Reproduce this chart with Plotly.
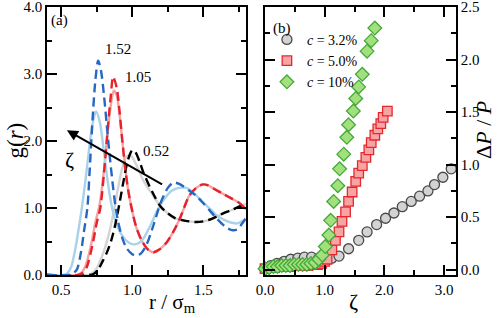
import plotly.graph_objects as go

# ---------------- Panel (a): g(r) ----------------
r_152_dash = [0.40, 0.55, 0.58, 0.61, 0.64, 0.66, 0.684, 0.70, 0.72, 0.74, 0.76, 0.78, 0.80, 0.82, 0.84, 0.86, 0.88, 0.90, 0.93, 0.96, 1.00, 1.03, 1.06, 1.10, 1.15, 1.20, 1.25, 1.29, 1.33, 1.40, 1.45, 1.50, 1.55, 1.60, 1.65, 1.70, 1.74, 1.77, 1.80]
g_152_dash = [0.00, 0.00, 0.02, 0.08, 0.35, 0.65, 1.00, 1.55, 2.30, 2.90, 3.20, 3.05, 2.70, 2.25, 1.80, 1.40, 1.05, 0.80, 0.55, 0.40, 0.31, 0.29, 0.32, 0.45, 0.75, 1.08, 1.30, 1.38, 1.36, 1.26, 1.18, 1.07, 0.95, 0.83, 0.73, 0.67, 0.68, 0.76, 0.85]

r_152_sol = [0.40, 0.51, 0.54, 0.57, 0.60, 0.62, 0.645, 0.67, 0.70, 0.72, 0.745, 0.77, 0.80, 0.83, 0.86, 0.90, 0.95, 1.00, 1.04, 1.08, 1.13, 1.18, 1.23, 1.28, 1.33, 1.38, 1.43, 1.50, 1.55, 1.60, 1.65, 1.70, 1.74, 1.77, 1.80]
g_152_sol = [0.00, 0.00, 0.02, 0.12, 0.40, 0.65, 1.00, 1.40, 1.95, 2.25, 2.44, 2.30, 1.85, 1.35, 0.98, 0.70, 0.53, 0.46, 0.47, 0.55, 0.75, 0.98, 1.15, 1.26, 1.30, 1.30, 1.23, 1.08, 0.98, 0.88, 0.82, 0.78, 0.77, 0.80, 0.84]

r_105_dash = [0.40, 0.62, 0.65, 0.68, 0.72, 0.75, 0.775, 0.80, 0.83, 0.85, 0.865, 0.89, 0.91, 0.93, 0.95, 0.97, 1.00, 1.03, 1.07, 1.11, 1.15, 1.19, 1.24, 1.29, 1.34, 1.40, 1.45, 1.49, 1.53, 1.58, 1.64, 1.70, 1.75, 1.80]
g_105_dash = [0.00, 0.00, 0.03, 0.12, 0.45, 0.78, 1.00, 1.50, 2.25, 2.70, 2.96, 2.80, 2.45, 2.00, 1.60, 1.28, 0.95, 0.70, 0.50, 0.38, 0.34, 0.38, 0.48, 0.65, 0.87, 1.18, 1.30, 1.35, 1.34, 1.28, 1.21, 1.14, 1.08, 0.98]

r_105_sol = [0.40, 0.61, 0.64, 0.67, 0.71, 0.74, 0.77, 0.80, 0.83, 0.85, 0.87, 0.89, 0.91, 0.93, 0.95, 0.97, 1.00, 1.03, 1.07, 1.11, 1.15, 1.19, 1.24, 1.29, 1.34, 1.40, 1.45, 1.49, 1.53, 1.58, 1.64, 1.70, 1.75, 1.80]
g_105_sol = [0.00, 0.00, 0.03, 0.13, 0.45, 0.78, 1.05, 1.55, 2.20, 2.55, 2.75, 2.68, 2.40, 2.00, 1.62, 1.28, 0.95, 0.70, 0.50, 0.38, 0.34, 0.38, 0.48, 0.65, 0.87, 1.18, 1.30, 1.35, 1.34, 1.28, 1.21, 1.14, 1.08, 0.98]

r_052_dash = [0.40, 0.70, 0.73, 0.76, 0.79, 0.82, 0.85, 0.88, 0.91, 0.94, 0.97, 1.00, 1.02, 1.05, 1.08, 1.12, 1.16, 1.20, 1.25, 1.30, 1.35, 1.40, 1.45, 1.50, 1.55, 1.60, 1.65, 1.70, 1.75, 1.80]
g_052_dash = [0.00, 0.00, 0.02, 0.08, 0.20, 0.33, 0.50, 0.75, 1.07, 1.42, 1.72, 1.86, 1.84, 1.70, 1.52, 1.33, 1.16, 1.02, 0.92, 0.85, 0.82, 0.80, 0.79, 0.80, 0.83, 0.88, 0.93, 0.97, 1.02, 1.06]

r_052_sol = [0.40, 0.69, 0.72, 0.75, 0.78, 0.81, 0.84, 0.87, 0.90, 0.93, 0.96, 0.99, 1.02, 1.05, 1.08, 1.12, 1.16, 1.20, 1.25, 1.30, 1.35, 1.40, 1.45, 1.50, 1.55, 1.60, 1.65, 1.70, 1.75, 1.80]
g_052_sol = [0.00, 0.00, 0.03, 0.10, 0.24, 0.42, 0.65, 0.95, 1.30, 1.60, 1.77, 1.78, 1.68, 1.54, 1.40, 1.27, 1.14, 1.02, 0.92, 0.85, 0.82, 0.80, 0.79, 0.80, 0.83, 0.88, 0.93, 0.97, 1.02, 1.06]

# ---------------- Panel (b): dP/P vs zeta ----------------
z_32 = [0.00, 0.10, 0.20, 0.32, 0.43, 0.55, 0.66, 0.78, 0.90, 1.02, 1.12, 1.24, 1.40, 1.57, 1.71, 1.87, 2.02, 2.16, 2.30, 2.45, 2.59, 2.73, 2.84, 2.98, 3.12]
p_32 = [0.01, 0.04, 0.06, 0.08, 0.10, 0.11, 0.12, 0.12, 0.11, 0.10, 0.11, 0.13, 0.20, 0.28, 0.36, 0.43, 0.49, 0.54, 0.60, 0.65, 0.70, 0.75, 0.81, 0.88, 0.96]

z_50 = [0.00, 0.08, 0.16, 0.24, 0.32, 0.40, 0.48, 0.56, 0.64, 0.72, 0.80, 0.88, 0.95, 1.00, 1.04, 1.12, 1.18, 1.24, 1.29, 1.35, 1.40, 1.46, 1.52, 1.57, 1.63, 1.69, 1.74, 1.78, 1.84, 1.89, 1.94, 1.98, 2.05]
p_50 = [0.01, 0.02, 0.02, 0.03, 0.03, 0.03, 0.04, 0.04, 0.04, 0.04, 0.05, 0.05, 0.06, 0.08, 0.10, 0.19, 0.28, 0.36, 0.46, 0.55, 0.65, 0.74, 0.84, 0.92, 0.99, 1.07, 1.14, 1.21, 1.28, 1.34, 1.39, 1.45, 1.51]

z_10 = [0.00, 0.07, 0.14, 0.21, 0.28, 0.35, 0.42, 0.49, 0.56, 0.63, 0.70, 0.77, 0.84, 0.90, 0.96, 1.01, 1.07, 1.10, 1.15, 1.22, 1.25, 1.32, 1.37, 1.40, 1.48, 1.52, 1.57, 1.63, 1.71, 1.78, 1.84]
p_10 = [0.01, 0.02, 0.03, 0.03, 0.04, 0.04, 0.04, 0.05, 0.05, 0.05, 0.05, 0.06, 0.07, 0.10, 0.14, 0.22, 0.33, 0.47, 0.65, 0.80, 0.96, 1.10, 1.26, 1.38, 1.51, 1.63, 1.74, 1.86, 2.08, 2.18, 2.30]

legend_names = ["<i>c</i> = 3.2%", "<i>c</i> = 5.0%", "<i>c</i> = 10%"]

FONT = "Liberation Serif, Tinos, Times New Roman, DejaVu Serif, serif"
fig = go.Figure()

def line(x, y, color, dash=None, width=2.4):
    fig.add_trace(go.Scatter(
        x=x, y=y, mode="lines", showlegend=False, xaxis="x", yaxis="y",
        line=dict(color=color, width=width, dash=dash, shape="spline", smoothing=0.8),
        hoverinfo="skip"))

line(r_052_sol, g_052_sol, "#d4d4d4")
line(r_105_sol, g_105_sol, "#f4a3a3")
line(r_152_sol, g_152_sol, "#a9d2ea")
line(r_052_dash, g_052_dash, "#000000", dash="9px,5px")
line(r_105_dash, g_105_dash, "#e8212b", dash="9px,5px")
line(r_152_dash, g_152_dash, "#2468c4", dash="9px,5px")

fig.add_trace(go.Scatter(x=z_32, y=p_32, mode="markers", name=legend_names[0],
    xaxis="x2", yaxis="y2", cliponaxis=False,
    marker=dict(symbol="circle", size=10, color="#d3d3d3", line=dict(color="#4a4a4a", width=1.3))))
fig.add_trace(go.Scatter(x=z_50, y=p_50, mode="markers", name=legend_names[1],
    xaxis="x2", yaxis="y2", cliponaxis=False,
    marker=dict(symbol="square", size=9.5, color="#f8a4a4", line=dict(color="#e5282d", width=1.3))))
fig.add_trace(go.Scatter(x=z_10, y=p_10, mode="markers", name=legend_names[2],
    xaxis="x2", yaxis="y2", cliponaxis=False,
    marker=dict(symbol="diamond", size=10.5, color="#a2e07e", line=dict(color="#45a83a", width=1.3))))

axis_common = dict(showline=True, linecolor="black", linewidth=1.5, mirror="allticks",
                   ticks="inside", ticklen=10, tickwidth=1.5, tickcolor="black",
                   showgrid=False, zeroline=False, automargin=False,
                   ticklabeloverflow="allow",
                   tickfont=dict(family=FONT, size=15, color="black"))
minor_common = dict(ticks="inside", ticklen=5, tickwidth=1.5, tickcolor="black")

XD1 = [47/498, 246/498]
XD2 = [265/498, 456/498]
YD = [1-275/318, 1-7/318]

fig.update_layout(
    width=498, height=318,
    margin=dict(l=0, r=0, t=0, b=0, autoexpand=False),
    paper_bgcolor="white", plot_bgcolor="white",
    font=dict(family=FONT, color="black"),
    xaxis=dict(domain=XD1, anchor="y", range=[0.4, 1.8],
               tick0=0.5, dtick=0.5, tickformat=".1f",
               minor=dict(dtick=0.25, tick0=0.25, **minor_common), **axis_common),
    yaxis=dict(domain=YD, anchor="x", range=[0, 4.0001],
               tick0=0, dtick=1, tickformat=".1f",
               minor=dict(dtick=0.5, tick0=0, **minor_common), **axis_common),
    xaxis2=dict(domain=XD2, anchor="y2", range=[0, 3.2],
                tick0=0, dtick=1, tickformat=".1f",
                minor=dict(dtick=0.5, tick0=0, **minor_common), **axis_common),
    yaxis2=dict(domain=YD, anchor="x2", side="right", range=[-0.05, 2.5001],
                tick0=0, dtick=0.5, tickformat=".1f",
                minor=dict(dtick=0.25, tick0=0, **minor_common), **axis_common),
    legend=dict(x=0.536, y=0.925, xanchor="left", yanchor="top",
                font=dict(family=FONT, size=14, color="black"),
                bgcolor="rgba(0,0,0,0)", tracegroupgap=0, itemwidth=30),
    showlegend=True,
)

ann_font = dict(family=FONT, size=15, color="black")
# axis titles
fig.add_annotation(x=(XD1[0]+XD1[1])/2, y=0, xref="paper", yref="paper", yanchor="bottom",
                   text="r / σ<sub>m</sub>", showarrow=False, font=dict(family=FONT, size=21, color="black"))
fig.add_annotation(x=0, y=(YD[0]+YD[1])/2, xref="paper", yref="paper", xanchor="left",
                   text="g(<i>r</i>)", textangle=-90, showarrow=False, font=dict(family=FONT, size=23, color="black"))
fig.add_annotation(x=(XD2[0]+XD2[1])/2, y=0.005, xref="paper", yref="paper", yanchor="bottom",
                   text="ζ", showarrow=False, font=dict(family=FONT, size=22, color="black"))
fig.add_annotation(x=1.0, y=0.59, xref="paper", yref="paper", xanchor="right",
                   text="Δ<i>P</i> / <i>P</i>", textangle=-90, showarrow=False, font=dict(family=FONT, size=22, color="black"))
# panel annotations
fig.add_annotation(x=0.9, y=3.37, xref="x", yref="y", text="1.52", showarrow=False, font=ann_font)
fig.add_annotation(x=1.04, y=2.95, xref="x", yref="y", text="1.05", showarrow=False, font=ann_font)
fig.add_annotation(x=1.17, y=1.85, xref="x", yref="y", text="0.52", showarrow=False, font=ann_font)
fig.add_annotation(x=0.49, y=3.8, xref="x", yref="y", text="(a)", showarrow=False, font=ann_font)
fig.add_annotation(x=0.56, y=1.72, xref="x", yref="y", text="ζ", showarrow=False,
                   font=dict(family=FONT, size=22, color="black"))
fig.add_annotation(x=0.54, y=2.16, ax=1.22, ay=1.34, xref="x", yref="y", axref="x", ayref="y",
                   text="", showarrow=True, arrowhead=2, arrowsize=1.1, arrowwidth=2, arrowcolor="black")
fig.add_annotation(x=0.28, y=2.3, xref="x2", yref="y2", text="(b)", showarrow=False, font=ann_font)

fig.write_html("out.html", config={"displayModeBar": False},
               post_script="document.body.style.margin='0';document.body.style.overflow='hidden';")
